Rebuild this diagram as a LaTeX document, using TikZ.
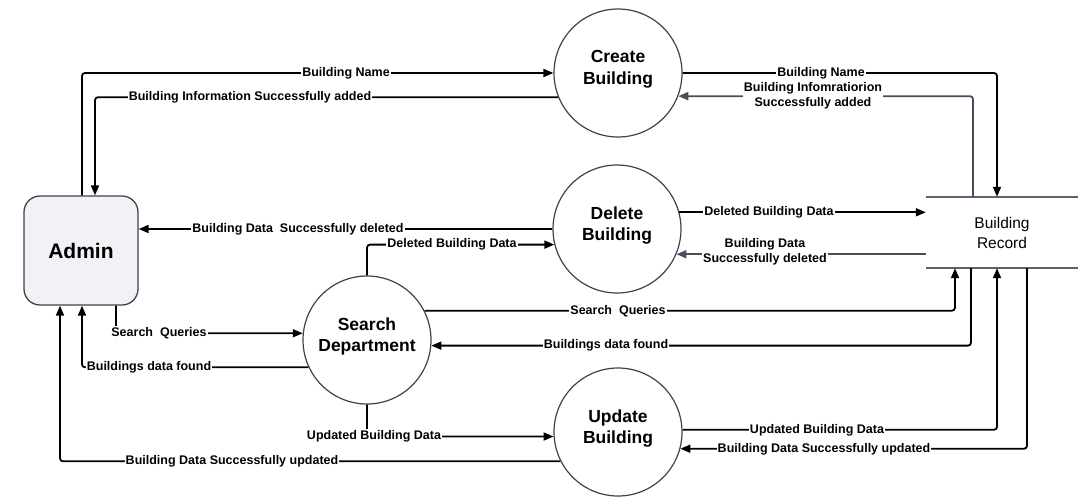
\documentclass[tikz,border=0pt]{standalone}
\usepackage{fontspec}
\setmainfont{Liberation Sans}
\usetikzlibrary{arrows.meta}
\definecolor{edge}{HTML}{3D434C}
\definecolor{adminfill}{HTML}{F1F2F5}
\definecolor{gline}{HTML}{474E5A}
\definecolor{sline}{HTML}{5B6270}
\begin{document}
\begin{tikzpicture}[x=1pt,y=-1pt,
 proc/.style={circle, draw=edge, line width=1.2pt, minimum size=128pt, inner sep=0pt, align=center, text depth=11pt, font=\fontsize{17.5}{21.5}\selectfont\bfseries},
 ent/.style={rectangle, rounded corners=16pt, draw=edge, fill=adminfill, line width=1.3pt, minimum width=114pt, minimum height=109pt, font=\fontsize{21}{24}\selectfont\bfseries},
 store/.style={rectangle, minimum width=152pt, minimum height=71pt, inner sep=0pt, align=center, font=\fontsize{15.5}{20}\selectfont},
 flow/.style={draw=black, line width=1.8pt, rounded corners=3pt, -{Triangle[length=10pt,width=8pt]}},
 flowg/.style={draw=gline, line width=1.8pt, rounded corners=3pt, -{Triangle[length=10pt,width=8pt]}},
 lbl/.style={fill=white, inner sep=1pt, font=\fontsize{12.5}{15.5}\selectfont\bfseries, align=center},
]
\useasboundingbox (0,0) rectangle (1078,496);

% nodes
\node[ent] (admin) at (81,250.5) {Admin};
\node[proc] (create) at (618,73) {Create\\Building};
\node[proc] (delete) at (617,229) {Delete\\Building};
\node[proc] (search) at (367,340) {Search\\Department};
\node[proc] (update) at (618,432) {Update\\Building};
\node[store] (record) at (1002,232.5) {Building\\Record};
\draw[sline, line width=1.8pt] (record.north west) -- (record.north east);
\draw[sline, line width=1.8pt] (record.south west) -- (record.south east);

% connectors
\draw[flow] (82,0 |- admin.north) |- (create.west);
\draw[flow] (create.202) -| (95,0 |- admin.north);
\draw[flow] (create.east) -| (997,0 |- record.north);
\draw[flowg] (973,0 |- record.north) |- (create.339);
\draw[flow] (delete.west) -- (admin.east |- delete.west);
\draw[flow] (search.north) |- (delete.194);
\draw[flow] (delete.15) -- (record.west |- delete.15);
\draw[flowg] (record.west |- delete.337) -- (delete.337);
\draw[flow] (116,0 |- admin.south) |- (search.174);
\draw[flow] (search.205) -| (82,0 |- admin.south);
\draw[flow] (search.27) -| (955,0 |- record.south);
\draw[flow] (971,0 |- record.south) |- (search.355);
\draw[flow] (search.south) |- (update.184);
\draw[flow] (update.207) -| (60,0 |- admin.south);
\draw[flow] (update.2) -| (997,0 |- record.south);
\draw[flow] (1027,0 |- record.south) |- (update.345);

% labels
\node[lbl] (l1) at (346,73) {Building Name};
\node[lbl] (l2) at (250,97) {Building Information Successfully added};
\node[lbl] (l3) at (821,73) {Building Name};
\node[lbl] (l4) at (813,96) {Building Infomratiorion\\Successfully added};
\node[lbl] (l5) at (298,229) {Building Data~ Successfully deleted};
\node[lbl] (l6) at (452,244) {Deleted Building Data};
\node[lbl] (l7) at (769,212) {Deleted Building Data};
\node[lbl] (l8) at (765,252) {Building Data\\Successfully deleted};
\node[lbl] (l9) at (159,333) {Search~ Queries};
\node[lbl] (l10) at (149,367) {Buildings data found};
\node[lbl] (l11) at (618,311) {Search~ Queries};
\node[lbl] (l12) at (606,345) {Buildings data found};
\node[lbl] (l13) at (374,436) {Updated Building Data};
\node[lbl] (l14) at (232,461) {Building Data Successfully updated};
\node[lbl] (l15) at (817,430) {Updated Building Data};
\node[lbl] (l16) at (824,449) {Building Data Successfully updated};
\end{tikzpicture}
\end{document}
